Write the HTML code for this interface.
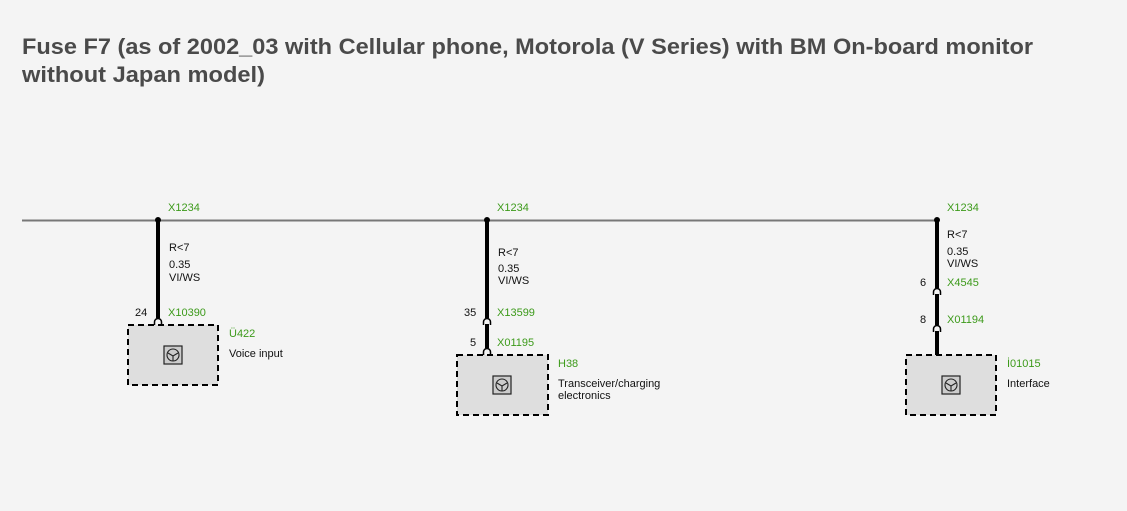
<!DOCTYPE html>
<html><head><meta charset="utf-8"><style>
html,body{margin:0;padding:0;background:#f4f4f4;}
svg{display:block;font-family:"Liberation Sans",Arial,sans-serif;}
.g{fill:#3c9a1a;font-size:11px;}
.k{fill:#111;font-size:11px;}
.t{fill:#4a4a4a;font-size:22px;font-weight:bold;}
</style></head><body>
<svg width="1127" height="511" viewBox="0 0 1127 511" xmlns="http://www.w3.org/2000/svg">
<text class="t" x="22" y="54" textLength="1011" lengthAdjust="spacingAndGlyphs">Fuse F7 (as of 2002_03 with Cellular phone, Motorola (V Series) with BM On-board monitor</text>
<text class="t" x="22" y="82" textLength="243" lengthAdjust="spacingAndGlyphs">without Japan model)</text>

<line x1="22" y1="220.5" x2="937" y2="220.5" stroke="#777" stroke-width="2"/>

<!-- column 1 -->
<text class="g" x="168" y="211">X1234</text>
<line x1="158" y1="220" x2="158" y2="318" stroke="#000" stroke-width="4"/>
<circle cx="158" cy="220" r="3" fill="#000"/>
<text class="k" x="169" y="251">R&lt;7</text>
<text class="k" x="169" y="268">0.35</text>
<text class="k" x="169" y="281">VI/WS</text>
<text class="k" x="135" y="316">24</text>
<text class="g" x="168" y="316">X10390</text>
<path d="M154.5 325 v-3 a3.5 3.5 0 0 1 7 0 v3" fill="none" stroke="#000" stroke-width="1.5"/>
<rect x="128" y="325" width="90" height="60" fill="#dedede" stroke="#000" stroke-width="2" stroke-dasharray="6,4"/>
<g transform="translate(164,346)"><rect width="18" height="18" fill="#ccc" stroke="#222" stroke-width="1.2"/><circle cx="9" cy="9" r="6" fill="none" stroke="#222" stroke-width="1.1"/><path d="M4 7 L9 10 L14 7 M9 10 V15" fill="none" stroke="#222" stroke-width="1.1"/></g>
<text class="g" x="229" y="337">Ü422</text>
<text class="k" x="229" y="357">Voice input</text>

<!-- column 2 -->
<text class="g" x="497" y="211">X1234</text>
<line x1="487" y1="220" x2="487" y2="318" stroke="#000" stroke-width="4"/>
<circle cx="487" cy="220" r="3" fill="#000"/>
<text class="k" x="498" y="256">R&lt;7</text>
<text class="k" x="498" y="272">0.35</text>
<text class="k" x="498" y="284">VI/WS</text>
<text class="k" x="464" y="316">35</text>
<text class="g" x="497" y="316">X13599</text>
<path d="M483.5 325 v-3 a3.5 3.5 0 0 1 7 0 v3" fill="none" stroke="#000" stroke-width="1.5"/>
<line x1="487" y1="324" x2="487" y2="348" stroke="#000" stroke-width="4"/>
<text class="k" x="470" y="346">5</text>
<text class="g" x="497" y="346">X01195</text>
<path d="M483.5 355 v-3 a3.5 3.5 0 0 1 7 0 v3" fill="none" stroke="#000" stroke-width="1.5"/>
<rect x="457" y="355" width="91" height="60" fill="#dedede" stroke="#000" stroke-width="2" stroke-dasharray="6,4"/>
<g transform="translate(493,376)"><rect width="18" height="18" fill="#ccc" stroke="#222" stroke-width="1.2"/><circle cx="9" cy="9" r="6" fill="none" stroke="#222" stroke-width="1.1"/><path d="M4 7 L9 10 L14 7 M9 10 V15" fill="none" stroke="#222" stroke-width="1.1"/></g>
<text class="g" x="558" y="367">H38</text>
<text class="k" x="558" y="387">Transceiver/charging</text>
<text class="k" x="558" y="399"> electronics</text>

<!-- column 3 -->
<text class="g" x="947" y="211">X1234</text>
<line x1="937" y1="220" x2="937" y2="288" stroke="#000" stroke-width="4"/>
<circle cx="937" cy="220" r="3" fill="#000"/>
<text class="k" x="947" y="238">R&lt;7</text>
<text class="k" x="947" y="255">0.35</text>
<text class="k" x="947" y="267">VI/WS</text>
<text class="k" x="920" y="286">6</text>
<text class="g" x="947" y="286">X4545</text>
<path d="M933.5 295 v-3 a3.5 3.5 0 0 1 7 0 v3" fill="none" stroke="#000" stroke-width="1.5"/>
<line x1="937" y1="294" x2="937" y2="325" stroke="#000" stroke-width="4"/>
<text class="k" x="920" y="323">8</text>
<text class="g" x="947" y="323">X01194</text>
<path d="M933.5 332 v-3 a3.5 3.5 0 0 1 7 0 v3" fill="none" stroke="#000" stroke-width="1.5"/>
<line x1="937" y1="331" x2="937" y2="356" stroke="#000" stroke-width="4"/>
<rect x="906" y="355" width="90" height="60" fill="#dedede" stroke="#000" stroke-width="2" stroke-dasharray="6,4"/>
<g transform="translate(942,376)"><rect width="18" height="18" fill="#ccc" stroke="#222" stroke-width="1.2"/><circle cx="9" cy="9" r="6" fill="none" stroke="#222" stroke-width="1.1"/><path d="M4 7 L9 10 L14 7 M9 10 V15" fill="none" stroke="#222" stroke-width="1.1"/></g>
<text class="g" x="1007" y="367">İ01015</text>
<text class="k" x="1007" y="387">Interface</text>
</svg>
</body></html>
